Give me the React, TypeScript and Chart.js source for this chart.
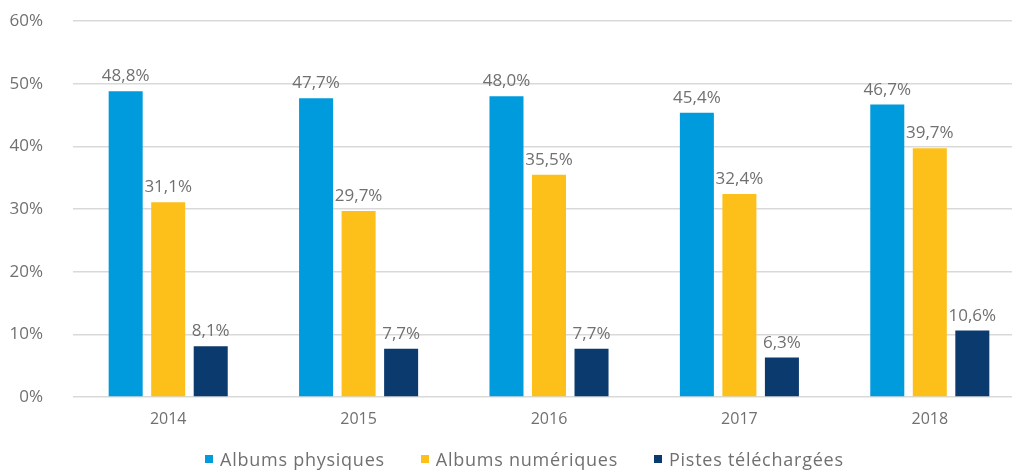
import React, { useEffect, useRef } from "react";
import { Chart, registerables } from "chart.js";

Chart.register(...registerables);

const categories = ["2014", "2015", "2016", "2017", "2018"];
const seriesNames = ["Albums physiques", "Albums numériques", "Pistes téléchargées"];
const albumsPhysiques = [48.8, 47.7, 48.0, 45.4, 46.7];
const albumsNumeriques = [31.1, 29.7, 35.5, 32.4, 39.7];
const pistesTelechargees = [8.1, 7.7, 7.7, 6.3, 10.6];
const seriesColors = ["#009bdc", "#fdbf1a", "#0b3a6e"];
const yTicks = [0, 10, 20, 30, 40, 50, 60];

const FONT = "'Open Sans', sans-serif";
const TEXT = "#707070";

const fmt = (v: number) => v.toFixed(1).replace(".", ",") + "%";

const dataLabelPlugin = {
  id: "dataLabels",
  afterDatasetsDraw(chart: any) {
    const ctx = chart.ctx;
    ctx.save();
    ctx.font = `17px ${FONT}`;
    ctx.fillStyle = TEXT;
    ctx.textAlign = "center";
    ctx.textBaseline = "alphabetic";
    chart.data.datasets.forEach((ds: any, i: number) => {
      const meta = chart.getDatasetMeta(i);
      meta.data.forEach((el: any, j: number) => {
        ctx.fillText(fmt(ds.data[j]), el.x, el.y - 10);
      });
    });
    ctx.restore();
  },
};

export default function App() {
  const ref = useRef<HTMLCanvasElement>(null);
  useEffect(() => {
    if (!ref.current) return;
    const chart = new Chart(ref.current, {
      type: "bar",
      data: {
        labels: categories,
        datasets: [albumsPhysiques, albumsNumeriques, pistesTelechargees].map((d, i) => ({
          label: seriesNames[i],
          data: d,
          backgroundColor: seriesColors[i],
          borderWidth: 0,
          barPercentage: 0.8,
          categoryPercentage: 0.67,
        })),
      },
      options: {
        animation: false,
        responsive: false,
        maintainAspectRatio: false,
        layout: { padding: { top: 0, right: 5, left: 0, bottom: 0 } },
        plugins: { legend: { display: false }, tooltip: { enabled: false } },
        scales: {
          x: {
            grid: { display: false, drawTicks: false },
            border: { display: false },
            ticks: { color: TEXT, font: { family: FONT, size: 16 }, padding: 13 },
            afterFit: (s: any) => { s.height = 73; },
          },
          y: {
            min: 0,
            max: 60,
            afterBuildTicks: (s: any) => { s.ticks = yTicks.map((v) => ({ value: v })); },
            grid: { color: "#d9d9d9", lineWidth: 1.5, drawTicks: false },
            border: { display: false },
            ticks: {
              color: TEXT,
              font: { family: FONT, size: 17 },
              padding: 30,
              callback: (v: any) => v + "%",
            },
            afterFit: (s: any) => { s.width = 73; },
          },
        },
      },
      plugins: [dataLabelPlugin],
    });
    return () => chart.destroy();
  }, []);

  const legendItem = (name: string, color: string, ml: number) => (
    <div key={name} style={{ display: "flex", alignItems: "center", marginLeft: ml }}>
      <span style={{ width: 8, height: 8, background: color, display: "inline-block", marginRight: 7 }} />
      <span>{name}</span>
    </div>
  );

  return (
    <div style={{ position: "fixed", left: 0, top: 0, width: 1012, height: 470, overflow: "hidden", background: "#fff" }}>
      <canvas
        ref={ref}
        width={1030}
        height={489}
        style={{ display: "block", width: 1030, height: 489, marginTop: -19 }}
      />
      <div
        style={{
          position: "absolute",
          left: 205,
          top: 447,
          display: "flex",
          fontFamily: FONT,
          fontSize: 18,
          letterSpacing: "0.75px",
          color: TEXT,
          lineHeight: "24px",
          whiteSpace: "nowrap",
        }}
      >
        {seriesNames.map((n, i) => legendItem(n, seriesColors[i], i === 0 ? 0 : 36))}
      </div>
    </div>
  );
}
